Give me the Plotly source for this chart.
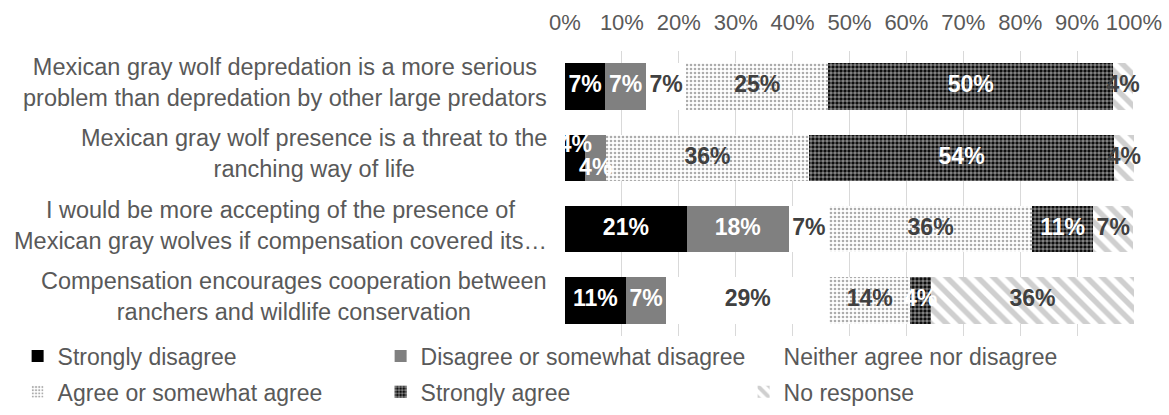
import plotly.graph_objects as go

statements = [
    "Mexican gray wolf depredation is a more serious<br>problem than depredation by other large predators",
    "Mexican gray wolf presence is a threat to the<br>ranching way of life",
    "I would be more accepting of the presence of<br>Mexican gray wolves if compensation covered its…",
    "Compensation encourages cooperation between<br>ranchers and wildlife conservation",
]

strongly_disagree = [7.1, 3.6, 21.4, 10.7]
disagree = [7.1, 3.6, 17.9, 7.1]
neither = [7.1, 0.0, 7.1, 28.6]
agree = [25.0, 35.7, 35.7, 14.3]
strongly_agree = [50.0, 53.6, 10.7, 3.6]
no_response = [3.6, 3.6, 7.1, 35.7]

tick_vals = [0, 10, 20, 30, 40, 50, 60, 70, 80, 90, 100]
tick_text = ["0%", "10%", "20%", "30%", "40%", "50%", "60%", "70%", "80%", "90%", "100%"]

FONT = "Liberation Sans, Arial, sans-serif"
TXT = "#595959"
LBL = "#404040"

series = [
    ("Strongly disagree", strongly_disagree, dict(color="#000000"), "#ffffff", "legend"),
    ("Disagree or somewhat disagree", disagree, dict(color="#808080"), "#ffffff", "legend"),
    ("Neither agree nor disagree", neither, dict(color="#ffffff"), LBL, "legend"),
    ("Agree or somewhat agree", agree,
     dict(color="#ffffff", pattern=dict(shape=".", fgcolor="#5a5a5a", bgcolor="#ffffff",
                                        size=4, solidity=0.35, fillmode="overlay")), LBL, "legend2"),
    ("Strongly agree", strongly_agree,
     dict(color="#000000", pattern=dict(shape=".", fgcolor="#ffffff", bgcolor="#000000",
                                        size=4, solidity=0.62, fillmode="overlay")), "#ffffff", "legend2"),
    ("No response", no_response,
     dict(color="#ffffff", pattern=dict(shape="\\", fgcolor="#a0a0a0", bgcolor="#ffffff",
                                        size=11, solidity=0.5, fillmode="overlay")), LBL, "legend2"),
]

# per-point label placement (Excel nudges the two tiny labels of row 2 apart)
label_pos = {
    "Strongly disagree": ["middle center", "top center", "middle center", "middle center"],
    "Disagree or somewhat disagree": ["middle center", "bottom center", "middle center", "middle center"],
}

fig = go.Figure()
cum = [0.0] * len(statements)
for name, vals, marker, tcolor, leg in series:
    fig.add_trace(go.Bar(
        y=statements, x=vals, name=name, orientation="h", legend=leg,
        marker=dict(line=dict(width=0), **marker),
        hoverinfo="x+name",
    ))
    mids = [c + v / 2 for c, v in zip(cum, vals)]
    fig.add_trace(go.Scatter(
        x=mids, y=statements, mode="text", showlegend=False, hoverinfo="skip",
        text=[f"{v:.0f}%" if v > 0 else "" for v in vals],
        textposition=label_pos.get(name, "middle center"),
        textfont=dict(family=FONT, size=23, color=tcolor, weight="bold"),
        cliponaxis=False,
    ))
    cum = [c + v for c, v in zip(cum, vals)]

for s in statements:
    fig.add_annotation(
        x=0, xref="paper", y=s, yref="y", xanchor="right", yanchor="middle",
        xshift=-16, yshift=4, align="center",
        text=s, showarrow=False,
        font=dict(family=FONT, size=23.5, color=TXT),
    )

legend_common = dict(orientation="h", xanchor="left", yanchor="middle",
                     entrywidth=318, entrywidthmode="pixels",
                     font=dict(family=FONT, size=23, color=TXT),
                     traceorder="normal", bgcolor="rgba(0,0,0,0)")

fig.update_layout(
    width=1169, height=415,
    margin=dict(l=565, r=35, t=51, b=79, autoexpand=False),
    barmode="stack", bargap=0.345,
    paper_bgcolor="#ffffff", plot_bgcolor="#ffffff",
    font=dict(family=FONT, color=TXT),
    xaxis=dict(side="top", range=[0, 100], tickvals=tick_vals, ticktext=tick_text,
               showgrid=True, gridcolor="#d9d9d9", gridwidth=1, zeroline=False,
               showline=False, ticks="", ticklabelstandoff=16,
               tickfont=dict(family=FONT, size=22, color=TXT)),
    yaxis=dict(autorange="reversed", showticklabels=False, showgrid=False,
               zeroline=False, showline=False, ticks=""),
    legend=dict(x=-0.962, y=-0.07, **legend_common),
    legend2=dict(x=-0.962, y=-0.196, **legend_common),
    showlegend=True,
)

fig.write_html("out.html")
